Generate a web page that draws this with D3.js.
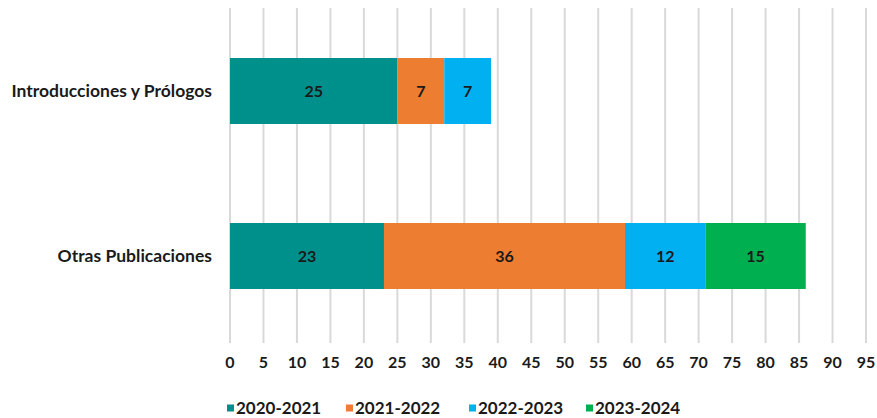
<!DOCTYPE html>
<html>
<head>
<meta charset="utf-8">
<script src="https://cdn.jsdelivr.net/npm/d3@7"></script>
<style>
  body { margin: 0; background: #fff; }
  #chart { width: 877px; height: 418px; }
  text { font-family: Lato, "Open Sans", sans-serif; font-weight: bold; fill: #1a1a1a; }
</style>
</head>
<body>
<div id="chart"></div>
<script>
var categories = ["Introducciones y Prólogos", "Otras Publicaciones"];
var seriesNames = ["2020-2021", "2021-2022", "2022-2023", "2023-2024"];
var seriesColors = ["#00908C", "#ED7D31", "#00B0F0", "#00B050"];
var introValues = [25, 7, 7, 0];
var otrasValues = [23, 36, 12, 15];
var xTicks = d3.range(0, 100, 5);

var width = 877, height = 418;
var svg = d3.select("#chart").append("svg")
    .attr("width", width).attr("height", height);

var x = d3.scaleLinear().domain([0, 95]).range([230, 866]);
var y = d3.scaleBand().domain(categories).range([8.5, 338.5]).paddingInner(0.6).paddingOuter(0.3);

// gridlines
svg.append("g").selectAll("line").data(xTicks).enter()
  .append("line")
  .attr("x1", d => x(d)).attr("x2", d => x(d))
  .attr("y1", 8).attr("y2", 343)
  .attr("stroke", "#d9d9d9").attr("stroke-width", 2);

// tick labels
svg.append("g").selectAll("text").data(xTicks).enter()
  .append("text")
  .attr("x", d => x(d)).attr("y", 362).attr("dy", "0.35em")
  .attr("text-anchor", "middle").style("font-size", "16px")
  .text(d => d);

// stacked data
var rows = [introValues, otrasValues];
var stackData = categories.map(function(c, i) {
  var o = { cat: c };
  seriesNames.forEach(function(s, j) { o[s] = rows[i][j]; });
  return o;
});
var series = d3.stack().keys(seriesNames)(stackData);

var color = d3.scaleOrdinal().domain(seriesNames).range(seriesColors);

var groups = svg.append("g").selectAll("g").data(series).enter()
  .append("g").attr("fill", d => color(d.key));

groups.selectAll("rect").data(d => d.filter(p => p[1] - p[0] > 0)).enter()
  .append("rect")
  .attr("x", d => x(d[0]))
  .attr("width", d => x(d[1]) - x(d[0]))
  .attr("y", d => y(d.data.cat))
  .attr("height", y.bandwidth());

groups.selectAll("text").data(d => d.filter(p => p[1] - p[0] > 0)).enter()
  .append("text")
  .attr("x", d => (x(d[0]) + x(d[1])) / 2)
  .attr("y", d => y(d.data.cat) + y.bandwidth() / 2)
  .attr("dy", "0.35em")
  .attr("text-anchor", "middle").style("font-size", "16px")
  .text(d => d[1] - d[0]);

// category labels
svg.append("g").selectAll("text").data(categories).enter()
  .append("text")
  .attr("x", 212).attr("y", d => y(d) + y.bandwidth() / 2)
  .attr("dy", "0.35em")
  .attr("text-anchor", "end").style("font-size", "17.5px")
  .text(d => d);

// legend
var legendX = [227, 346, 469, 586];
var legend = svg.append("g").selectAll("g").data(seriesNames).enter()
  .append("g").attr("transform", (d, i) => "translate(" + legendX[i] + ",408)");
legend.append("rect").attr("width", 7).attr("height", 7).attr("y", -3.5)
  .attr("fill", d => color(d));
legend.append("text").attr("x", 9).attr("y", 0).attr("dy", "0.36em")
  .style("font-size", "17px").text(d => d);
</script>
</body>
</html>
